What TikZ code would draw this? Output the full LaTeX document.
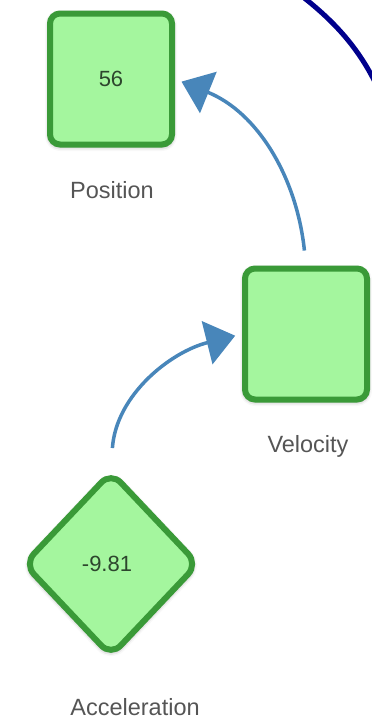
\documentclass[tikz,border=0pt]{standalone}
\usepackage{fontspec}
\setmainfont{Liberation Sans}
\usepackage{tikz}
\usetikzlibrary{arrows.meta,shapes.geometric,shadows.blur}

\definecolor{boxfill}{RGB}{164,246,158}
\definecolor{boxline}{RGB}{58,154,56}
\definecolor{valtext}{RGB}{45,70,45}
\definecolor{lbltext}{RGB}{85,85,85}
\definecolor{flow}{RGB}{72,134,186}
\definecolor{ring}{RGB}{0,0,140}

\begin{document}
\begin{tikzpicture}[x=1pt,y=-1pt,
        stock/.style={draw=boxline,fill=boxfill,line width=6pt,rounded corners=10pt,
            minimum width=122pt,minimum height=131pt,inner sep=0pt,
            text=valtext,font=\fontsize{22}{24}\selectfont,
            blur shadow={shadow xshift=0pt,shadow yshift=-1.5pt,shadow blur radius=5pt,shadow opacity=45}},
        const/.style={stock,diamond,rounded corners=14pt,minimum width=176pt,minimum height=186pt},
        lbl/.style={anchor=base,text=lbltext,font=\fontsize{23.5}{26}\selectfont},
        link/.style={draw=flow,line width=3.5pt,-{Triangle[length=29pt,width=44pt]}}]
        \useasboundingbox (0,0) rectangle (372,721);
        \draw [ring,line width=5pt] (303,-3) .. controls (335,22) and (358,48) .. (375,82);
        \node [stock] (pos) at (111,79) {56};
        \node [stock] (vel) at (306,334) {};
        \node [const] (acc) at (111,564) {\hspace*{-8pt}\raisebox{-4pt}{-9.81}};
        \node [lbl] (poslbl) at (112,198) {Position};
        \node [lbl] (vellbl) at (308,452) {Velocity};
        \node [lbl] (acclbl) at (135,715) {Acceleration};
        \draw [link,shorten <=20pt,shorten >=7pt] (acc.north) to[out=86,in=-166] (vel.west);
        \draw [link,shorten <=15pt,shorten >=7pt] (vel.north) to[out=96,in=-22] (pos.east);
    \end{tikzpicture}
\end{document}
